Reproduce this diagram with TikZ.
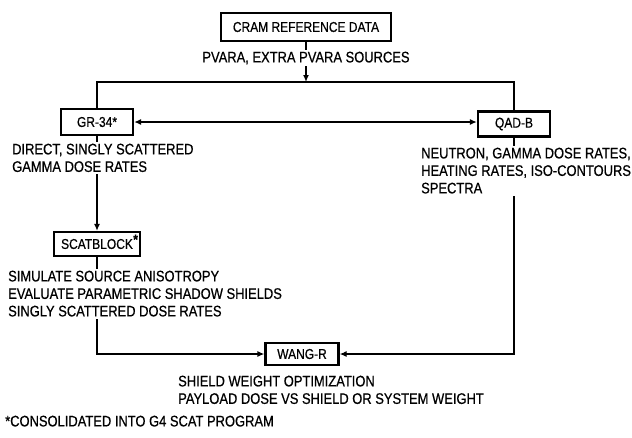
\documentclass[tikz,border=0pt]{standalone}
\usepackage{fontspec}
\setmainfont[FakeStretch=0.845,FakeBold=0.6]{Liberation Sans}
\usetikzlibrary{arrows.meta}

\begin{document}
\begin{tikzpicture}[x=1pt,y=-1pt,
        >={Latex[length=7pt,width=6pt]},
        prog/.style={draw,line width=2.3pt,inner sep=0pt,font=\fontsize{14.2}{16}\selectfont},
        note/.style={align=left,fill=white,inner xsep=0pt,inner ysep=2pt,font=\fontsize{15.3}{17.5}\selectfont}]
        \useasboundingbox (0,0) rectangle (632,437);
        % program boxes
        \node[prog,minimum width=170pt,minimum height=28pt] (cram) at (306,27) {CRAM REFERENCE DATA};
        \node[prog,minimum width=72pt,minimum height=26pt] (gr) at (97,122) {GR-34*};
        \node[prog,minimum width=72pt,minimum height=25pt] (qad) at (514,124) {QAD-B};
        \node[prog,minimum width=86pt,minimum height=24pt] (scat) at (97,244) {SCATBLOCK\hspace{5pt}};
        \node[anchor=north east,inner sep=0pt,font=\fontsize{14.4}{16}\selectfont\bfseries] (scatstar) at ([xshift=-3pt,yshift=-3.5pt]scat.north east) {*};
        \node[prog,minimum width=73pt,minimum height=22pt] (wang) at (302,354) {WANG-R};
        
        % connectors
        \coordinate (bus) at (306,82);
        \draw[line width=1.3pt,->] (cram.south) -- (cram.south |- bus);
        \draw[line width=1.3pt] (gr.north) |- (bus) -| (qad.north);
        \draw[line width=1.3pt,<->] (gr.east) -- (gr.east -| qad.west);
        \draw[line width=1.3pt,->] (gr.south) -- (scat.north);
        \draw[line width=1.3pt,->] (scat.south) |- (wang.west);
        \draw[line width=1.3pt,->] (qad.south) |- (wang.east);
        
        % output texts
        \node[note,anchor=north] (pvara) at (306,49.5) {PVARA, EXTRA PVARA SOURCES};
        \node[note,anchor=north west] (grtxt) at (12,141.5) {DIRECT, SINGLY SCATTERED\\GAMMA DOSE RATES};
        \node[note,anchor=north west] (qadtxt) at (421,145.5) {NEUTRON, GAMMA DOSE RATES,\\HEATING RATES, ISO-CONTOURS\\SPECTRA};
        \node[note,anchor=north west] (scattxt) at (8,268.5) {SIMULATE SOURCE ANISOTROPY\\EVALUATE PARAMETRIC SHADOW SHIELDS\\SINGLY SCATTERED DOSE RATES};
        \node[note,anchor=north west] (wangtxt) at (178,373.5) {SHIELD WEIGHT OPTIMIZATION\\PAYLOAD DOSE VS SHIELD OR SYSTEM WEIGHT};
        \node[note,anchor=north west] (foot) at (5,413.5) {*CONSOLIDATED INTO G4 SCAT PROGRAM};
\end{tikzpicture}
\end{document}
